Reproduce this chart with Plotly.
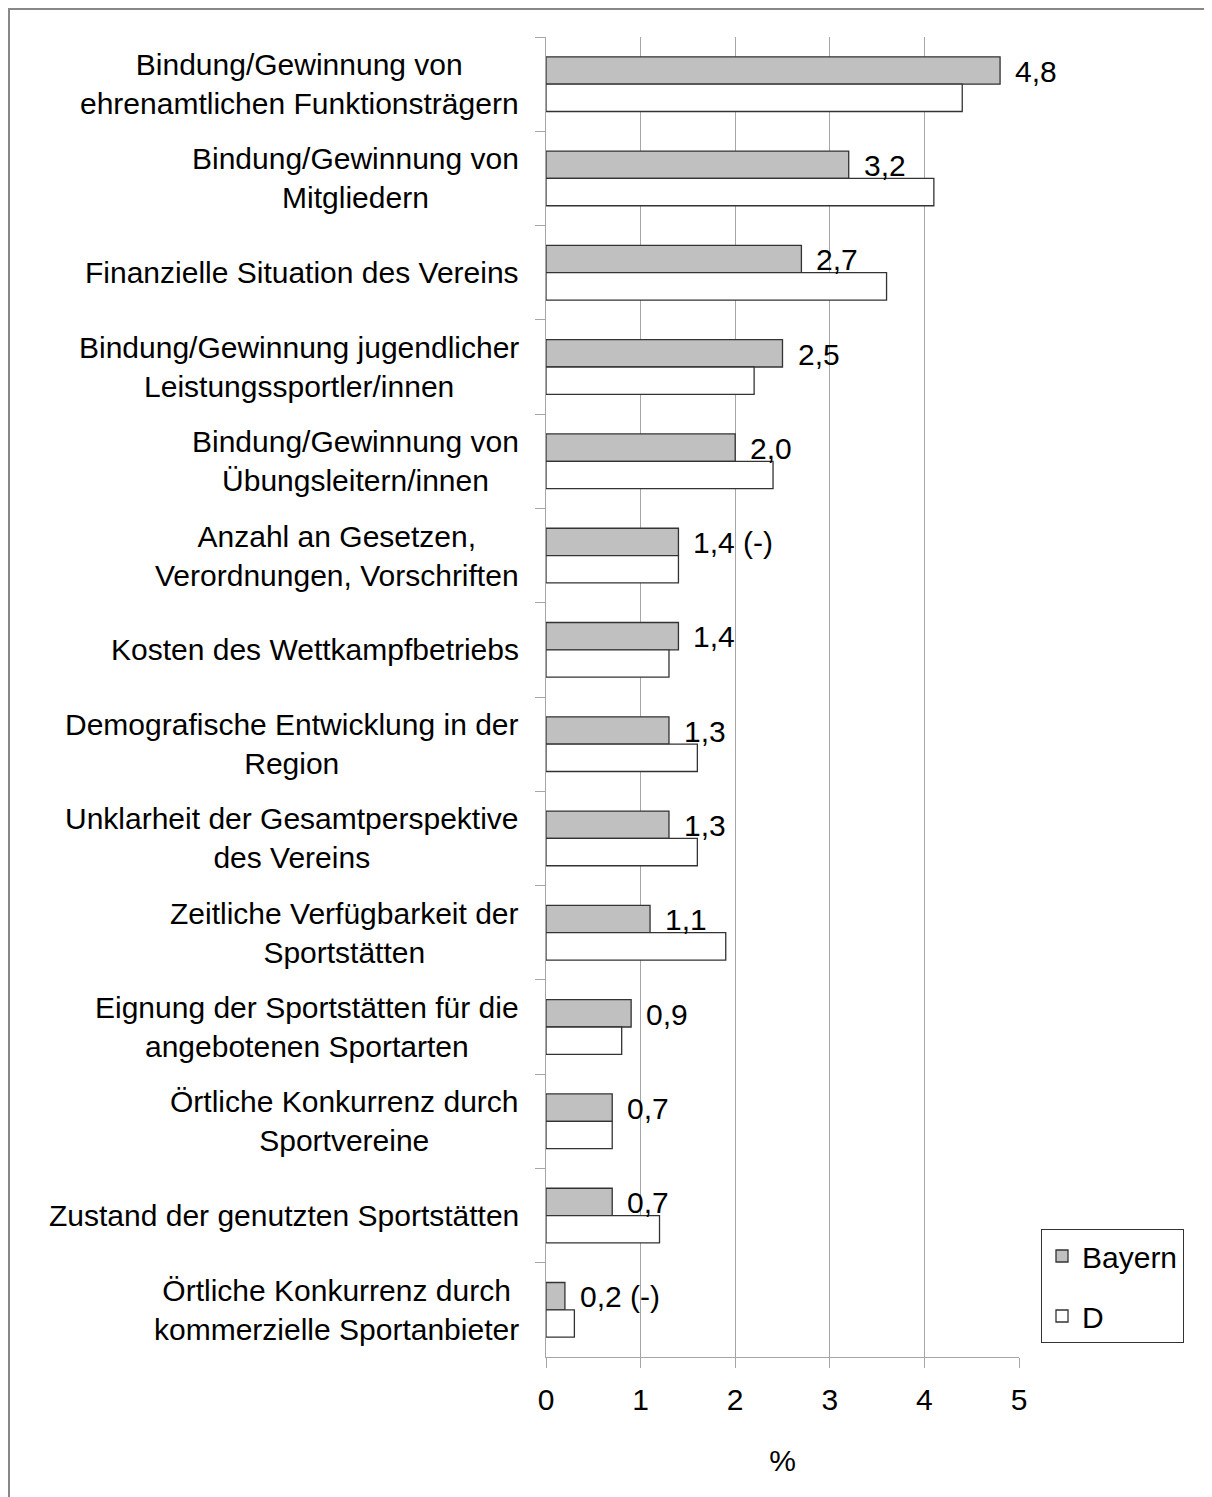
import plotly.graph_objects as go

categories = [
    "Bindung/Gewinnung von<br>ehrenamtlichen Funktionsträgern",
    "Bindung/Gewinnung von<br>Mitgliedern",
    "Finanzielle Situation des Vereins",
    "Bindung/Gewinnung jugendlicher<br>Leistungssportler/innen",
    "Bindung/Gewinnung von<br>Übungsleitern/innen",
    "Anzahl an Gesetzen,<br>Verordnungen, Vorschriften",
    "Kosten des Wettkampfbetriebs",
    "Demografische Entwicklung in der<br>Region",
    "Unklarheit der Gesamtperspektive<br>des Vereins",
    "Zeitliche Verfügbarkeit der<br>Sportstätten",
    "Eignung der Sportstätten für die<br>angebotenen Sportarten",
    "Örtliche Konkurrenz durch<br>Sportvereine",
    "Zustand der genutzten Sportstätten",
    "Örtliche Konkurrenz durch<br>kommerzielle Sportanbieter",
]
bayern = [4.8, 3.2, 2.7, 2.5, 2.0, 1.4, 1.4, 1.3, 1.3, 1.1, 0.9, 0.7, 0.7, 0.2]
deutschland = [4.4, 4.1, 3.6, 2.2, 2.4, 1.4, 1.3, 1.6, 1.6, 1.9, 0.8, 0.7, 1.2, 0.3]
value_labels = ["4,8", "3,2", "2,7", "2,5", "2,0", "1,4 (-)", "1,4", "1,3", "1,3",
                "1,1", "0,9", "0,7", "0,7", "0,2 (-)"]
x_ticks = [0, 1, 2, 3, 4, 5]

FONT = "Liberation Sans, Arial, sans-serif"
FS = 30
GRID = "#a6a6a6"

# page body has an 8px margin: figure origin sits at page (8, 8)
ML, MT = 538, 29
PW, PH = 473, 1320
W, H = 1212, 1497
MR = W - ML - PW
MB = H - MT - PH

fig = go.Figure()
fig.add_trace(go.Bar(
    y=categories, x=bayern, orientation="h", name="Bayern",
    marker=dict(color="#c0c0c0", line=dict(color="#333333", width=1.3)),
    legendgroup="a",
))
fig.add_trace(go.Bar(
    y=categories, x=deutschland, orientation="h", name="D",
    marker=dict(color="#ffffff", line=dict(color="#333333", width=1.3)),
    legendgroup="b",
))

annotations = []
for cat, v, lab in zip(categories, bayern, value_labels):
    annotations.append(dict(
        x=v, y=cat, xref="x", yref="y", text=lab, showarrow=False,
        xanchor="left", yanchor="middle", xshift=13, yshift=13,
        font=dict(family=FONT, size=FS, color="#000"),
    ))
for cat in categories:
    annotations.append(dict(
        x=0, y=cat, xref="paper", yref="y", text=cat, showarrow=False,
        xanchor="right", yanchor="middle", xshift=-25, align="center",
        font=dict(family=FONT, size=FS, color="#000"),
    ))

fig.update_layout(
    width=W, height=H,
    margin=dict(l=ML, r=MR, t=MT, b=MB, pad=0),
    paper_bgcolor="white", plot_bgcolor="white",
    barmode="group", bargap=0.42, bargroupgap=0,
    font=dict(family=FONT, size=FS, color="#000"),
    annotations=annotations,
    legend=dict(
        x=(1041 - 8 - ML) / PW, y=(MT + PH - (1229 - 8)) / PH,
        xanchor="left", yanchor="top",
        bordercolor="#333333", borderwidth=1, bgcolor="white",
        font=dict(family=FONT, size=FS, color="#000"),
        traceorder="grouped", tracegroupgap=18,
    ),
    shapes=[dict(
        type="rect", xref="paper", yref="paper",
        x0=(1 - ML) / PW, x1=(W + 20 - ML) / PW,
        y0=-(MB + 20) / PH, y1=1 + (MT - 1) / PH,
        line=dict(color="#888888", width=2), fillcolor="rgba(0,0,0,0)",
        layer="below",
    )],
)
fig.update_xaxes(
    range=[0, 5], tickvals=x_ticks, ticktext=[str(t) for t in x_ticks],
    showgrid=True, gridcolor=GRID, gridwidth=1.3, zeroline=False,
    showline=True, linecolor=GRID, linewidth=1.3,
    ticks="outside", ticklen=10, tickcolor=GRID, tickwidth=1.3,
    ticklabelstandoff=6,
    tickfont=dict(family=FONT, size=FS, color="#000"),
    title=dict(text="%", font=dict(family=FONT, size=FS, color="#000"), standoff=34),
)
fig.update_yaxes(
    autorange="reversed", showticklabels=False,
    showline=True, linecolor=GRID, linewidth=1.3,
    ticks="outside", ticklen=10, tickcolor=GRID, tickwidth=1.3,
    tickson="boundaries", showgrid=False,
)

fig.write_html("out.html")
